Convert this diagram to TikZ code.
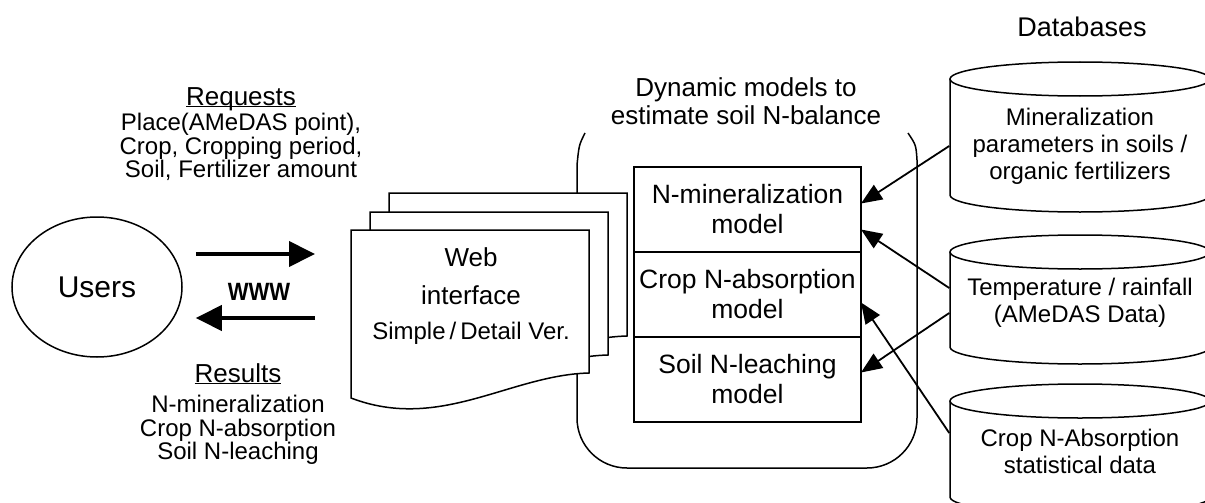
\documentclass[tikz,border=0pt]{standalone}
\usepackage{fontspec}
\setmainfont{Liberation Sans}
\usetikzlibrary{arrows.meta, positioning, shapes.geometric}

\newcommand{\fsize}[2]{\fontsize{#1}{#2}\selectfont}

\begin{document}
\begin{tikzpicture}[
  x=1pt, y=-1pt, line width=1.5pt,
  txt/.style={inner sep=0pt, align=center},
  users/.style={draw, ellipse, inner sep=0pt, minimum width=170pt,
                minimum height=140pt, font=\fsize{30}{30}},
  model/.style={draw, rectangle, inner sep=0pt, outer sep=0pt, align=center,
                minimum width=227pt, minimum height=85pt, font=\fsize{26.5}{30}},
  dbtext/.style={txt, minimum width=260pt, font=\fsize{24}{27}},
  heading/.style={anchor=base, inner sep=0pt, font=\fsize{26}{26}},
  list/.style={txt, font=\fsize{24}{23.5}},
  sheet/.style={draw, fill=white},
  wwwarrow/.style={-{Triangle[length=26pt, width=25pt]}, line width=4pt},
  feed/.style={-{Triangle[length=21pt, width=17pt]}, line width=1.8pt},
]
  \useasboundingbox (0,0) rectangle (1205,503);
  \fill[white] (0,0) rectangle (1205,503);

  % ---- Users and the request / result lists ----
  \node[users] (users) at (97,287) {Users};
  \node[heading] (req) at (241,105) {\underline{\smash{Requests}}};
  \node[list] (reqlist) at (241,147) {Place(AMeDAS point),\\Crop, Cropping period,\\Soil, Fertilizer amount};
  \node[heading] (res) at (238,382) {\underline{Results}};
  \node[list] (reslist) at (238,430) {N-mineralization\\Crop N-absorption\\Soil N-leaching};

  % ---- Model frame (open at the top) ----
  \draw (585,133) .. controls (579,145) .. (577,165) -- (577,418)
        arc[start angle=180, end angle=270, radius=50pt] -- (867,468)
        arc[start angle=270, end angle=360, radius=50pt] -- (917,160)
        .. controls (916,145) .. (908,133);
  \node[txt, font=\fsize{26}{28}] (dyn) at (746,101) {Dynamic models to\\estimate soil N-balance};

  % ---- Web interface: three stacked sheets ----
  \foreach \dx/\dy in {38/-37, 19/-18, 0/0}
    \draw[sheet, shift={(\dx,\dy)}] (351,230) -- (589,230) -- (589,373)
          .. controls (510,375) and (440,432) .. (351,398) -- cycle;
  \coordinate (sheet) at (351,230);
  \node[txt, font=\fsize{26}{38}] (web) at (471,276) {Web\\interface};
  \node[anchor=base, inner sep=0pt, font=\fsize{24}{24}] (webver) at (471,339) {Simple\,/\,Detail Ver.};

  % ---- WWW exchange ----
  \coordinate (reqy) at (0,254);
  \coordinate (resy) at (0,318);
  \draw[wwwarrow, shorten <=13pt, shorten >=36pt] (users.east |- reqy) -- (sheet |- reqy);
  \draw[wwwarrow, shorten <=36pt, shorten >=13pt] (sheet |- resy) -- (users.east |- resy);
  \node[font=\bfseries\fsize{25}{25}] (www) at (259,292) {\scalebox{0.88}[1]{WWW}};

  % ---- Model boxes ----
  \node[model] (nmin) at (747.5,209.5) {N-mineralization\\model};
  \node[model, below=0pt of nmin] (cabs) {Crop N-absorption\\model};
  \node[model, below=0pt of cabs] (leach) {Soil N-leaching\\model};

  % ---- Databases (cylinders run off the right edge) ----
  \node[txt, font=\fsize{27}{27}] (dbs) at (1082,27) {Databases};
  \foreach \ta/\tb in {79/195, 252/347, 401/497} {
    \draw (950,\ta) -- (950,\tb)
          arc[start angle=180, end angle=360, x radius=130pt, y radius=17pt] -- (1210,\ta);
    \draw (1080,\ta) ellipse[x radius=130pt, y radius=17pt];
  }
  \node[dbtext] (mindb)  at (1080,146) {Mineralization\\parameters in soils /\\organic fertilizers};
  \node[dbtext] (metdb)  at (1080,303) {Temperature / rainfall\\(AMeDAS Data)};
  \node[dbtext] (cropdb) at (1080,451) {Crop N-Absorption\\statistical data};

  % ---- Data flow into the models ----
  \draw[feed] (mindb.west) -- ([yshift=6pt]nmin.east);
  \draw[feed] ([yshift=15pt]metdb.west) -- ([yshift=-20pt]nmin.east);
  \draw[feed] ([yshift=-10pt]metdb.west) -- ([yshift=7pt]leach.east);
  \draw[feed] ([yshift=18pt]cropdb.west) -- ([yshift=-8pt]cabs.east);
\end{tikzpicture}
\end{document}
